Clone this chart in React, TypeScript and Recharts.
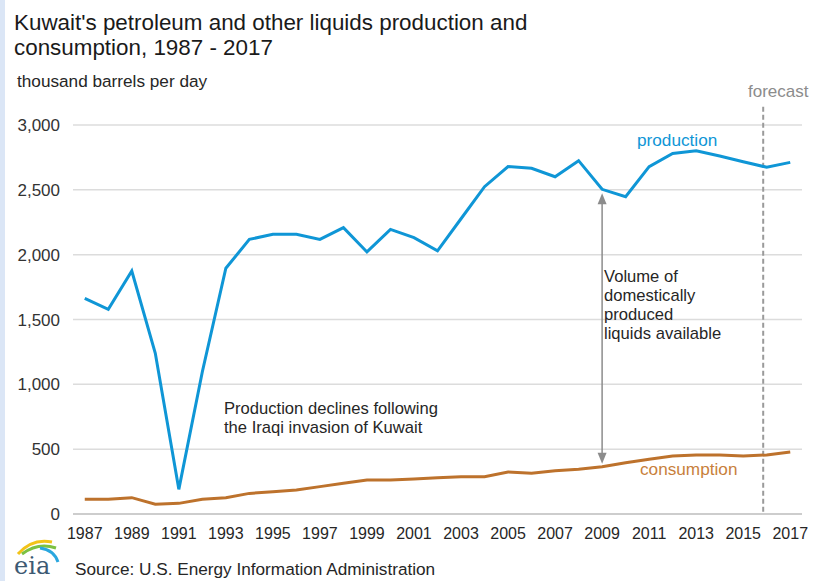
import { LineChart, Line, XAxis, YAxis, CartesianGrid, ReferenceLine } from "recharts";

// Kuwait petroleum and other liquids, thousand barrels per day
const years = [
  1987, 1988, 1989, 1990, 1991, 1992, 1993, 1994, 1995, 1996, 1997, 1998, 1999, 2000, 2001, 2002,
  2003, 2004, 2005, 2006, 2007, 2008, 2009, 2010, 2011, 2012, 2013, 2014, 2015, 2016, 2017,
];
const production = [
  1663, 1579, 1874, 1239, 190, 1097, 1895, 2118, 2157, 2157, 2118, 2208, 2021, 2195, 2131, 2030,
  2277, 2524, 2679, 2666, 2601, 2725, 2504, 2447, 2679, 2781, 2802, 2761, 2717, 2674, 2712,
];
const consumption = [
  113, 113, 126, 75, 82, 113, 126, 159, 172, 185, 211, 237, 262, 262, 270, 280,
  288, 288, 324, 314, 334, 345, 365, 396, 422, 447, 455, 455, 447, 455, 478,
];
const yTicks = [0, 500, 1000, 1500, 2000, 2500, 3000];
const labelYears = [1987, 1989, 1991, 1993, 1995, 1997, 1999, 2001, 2003, 2005, 2007, 2009, 2011, 2013, 2015, 2017];
const forecastStart = 2015.85;
const arrowYear = 2009;

const data = years.map((year, i) => ({ year, production: production[i], consumption: consumption[i] }));
// tick marks sit on the boundaries between years
const boundaryTicks = [...years.map((y) => y - 0.5), years[years.length - 1] + 0.5];
const xDomain = [years[0] - 0.5, years[years.length - 1] + 0.5];
const arrowIdx = years.indexOf(arrowYear);

const FONT = '"Liberation Sans", Arial, Helvetica, sans-serif';
const BLUE = "#0f96d6";
const BROWN = "#bd722c";

// double headed arrow between the two series
function ArrowShape(props: any) {
  const { x1, y1, x2, y2 } = props;
  const top = Math.min(y1, y2) + 4;
  const bottom = Math.max(y1, y2) - 3;
  const c = "#8c8c8c";
  return (
    <g>
      <line x1={x1} y1={top + 8} x2={x2} y2={bottom - 8} stroke={c} strokeWidth={1.5} />
      <polygon points={`${x1},${top} ${x1 - 4.5},${top + 11} ${x1 + 4.5},${top + 11}`} fill={c} />
      <polygon points={`${x2},${bottom} ${x2 - 4.5},${bottom - 11} ${x2 + 4.5},${bottom - 11}`} fill={c} />
    </g>
  );
}

function EiaLogo() {
  return (
    <svg width={60} height={51} style={{ position: "absolute", left: 10, top: 530 }}>
      <path d="M8 24 Q 22 8 42 12" stroke="#f2c318" strokeWidth={3} fill="none" />
      <path d="M12 24 Q 28 12 46 18" stroke="#7cc142" strokeWidth={3} fill="none" />
      <path d="M30 18 Q 44 20 48 32" stroke="#2aa7df" strokeWidth={3} fill="none" />
      <text x={4} y={44} fontFamily='"DejaVu Serif", "Liberation Serif", serif' fontSize={24} fill="#3d5a73">
        eia
      </text>
    </svg>
  );
}

export default function App() {
  return (
    <div style={{ position: "absolute", left: 0, top: 0, width: 819, height: 581, background: "#fff", fontFamily: FONT }}>
      <div style={{ position: "absolute", left: 0, top: 0, width: 5, height: 581, background: "#dbe6f6" }} />
      <LineChart
        width={819}
        height={581}
        data={data}
        margin={{ top: 125, right: 17, left: 0, bottom: 31 }}
        style={{ position: "absolute", left: 0, top: 0 }}
      >
        <CartesianGrid xAxisId="grid" vertical={false} stroke="#dcdcdc" strokeWidth={1.5} />
        <XAxis
          xAxisId="grid"
          dataKey="year"
          type="number"
          domain={xDomain}
          ticks={boundaryTicks}
          tick={false}
          height={6}
          tickSize={6}
          stroke="#c4c4c4"
          axisLine={{ stroke: "#c4c4c4", strokeWidth: 1.5 }}
          tickLine={{ stroke: "#c4c4c4", strokeWidth: 1.5 }}
        />
        <XAxis
          xAxisId="labels"
          dataKey="year"
          type="number"
          domain={xDomain}
          ticks={labelYears}
          interval={0}
          height={30}
          axisLine={false}
          tickLine={false}
          tickSize={0}
          tickMargin={8}
          tick={{ fontSize: 16, fill: "#262626", fontFamily: FONT }}
        />
        <YAxis
          domain={[0, 3000]}
          ticks={yTicks}
          width={73}
          axisLine={false}
          tickLine={false}
          tickSize={0}
          tickMargin={13}
          tickFormatter={(v: number) => v.toLocaleString("en-US")}
          tick={{ fontSize: 17, fill: "#333", fontFamily: FONT }}
        />
        <ReferenceLine
          xAxisId="labels"
          segment={[
            { x: forecastStart, y: 3140 },
            { x: forecastStart, y: 0 },
          ]}
          ifOverflow="visible"
          stroke="#9a9a9a"
          strokeWidth={2}
          strokeDasharray="5 3"
        />
        <Line
          xAxisId="labels"
          dataKey="consumption"
          stroke={BROWN}
          strokeWidth={3}
          dot={false}
          isAnimationActive={false}
        />
        <Line
          xAxisId="labels"
          dataKey="production"
          stroke={BLUE}
          strokeWidth={3}
          dot={false}
          isAnimationActive={false}
        />
        <ReferenceLine
          xAxisId="labels"
          segment={[
            { x: arrowYear, y: production[arrowIdx] },
            { x: arrowYear, y: consumption[arrowIdx] },
          ]}
          shape={ArrowShape}
        />
      </LineChart>
      <svg width={819} height={581} style={{ position: "absolute", left: 0, top: 0, pointerEvents: "none" }} fontFamily={FONT}>
        <text x={14} y={30} fontSize={22.4} fill="#1a1a1a">
          Kuwait's petroleum and other liquids production and
        </text>
        <text x={14} y={55} fontSize={22.4} fill="#1a1a1a">
          consumption, 1987 - 2017
        </text>
        <text x={17} y={87} fontSize={17.2} fill="#262626">
          thousand barrels per day
        </text>
        <text x={748} y={97} fontSize={17} fill="#8c8c8c">
          forecast
        </text>
        <text x={637} y={146} fontSize={17.2} fill={BLUE}>
          production
        </text>
        <text x={640} y={475} fontSize={17.2} fill="#c87f3c">
          consumption
        </text>
        <g fontSize={16.6} fill="#262626">
          <text x={604} y={282}>Volume of</text>
          <text x={604} y={301}>domestically</text>
          <text x={604} y={320}>produced</text>
          <text x={604} y={339}>liquids available</text>
          <text x={224} y={414}>Production declines following</text>
          <text x={224} y={433}>the Iraqi invasion of Kuwait</text>
        </g>
        <text x={75} y={575} fontSize={17.2} fill="#262626">
          Source: U.S. Energy Information Administration
        </text>
      </svg>
      <EiaLogo />
    </div>
  );
}
